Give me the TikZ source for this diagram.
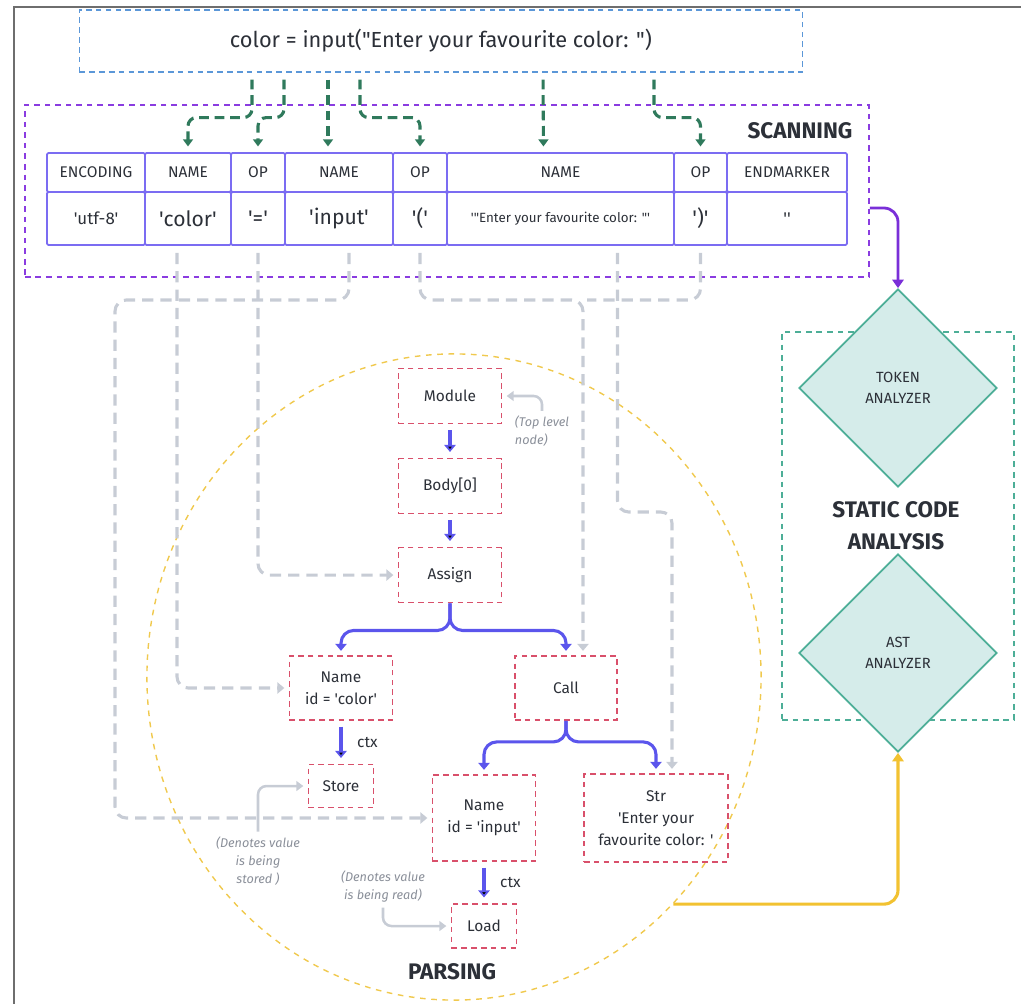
\documentclass[tikz,border=0pt]{standalone}
\usepackage{fontspec}
\setmainfont{Fira Sans}[Ligatures=TeXOff]
\usetikzlibrary{positioning,arrows.meta,shapes.geometric,calc}

\definecolor{ink}{HTML}{2C3038}
\definecolor{frameg}{HTML}{6E6E6E}
\definecolor{srcblue}{HTML}{5B97D8}
\definecolor{scanpurple}{HTML}{8A3CE0}
\definecolor{cellline}{HTML}{7B6CF2}
\definecolor{tapgreen}{HTML}{2F7A5C}
\definecolor{linkgray}{HTML}{C7CCD5}
\definecolor{notegray}{HTML}{8A8F99}
\definecolor{astred}{HTML}{D9506B}
\definecolor{kidblue}{HTML}{5B55EC}
\definecolor{parseyellow}{HTML}{F0C94E}
\definecolor{flowyellow}{HTML}{F2C231}
\definecolor{tealfill}{HTML}{D5ECEA}
\definecolor{tealline}{HTML}{4DAE97}
\definecolor{flowpurple}{HTML}{7A2FD8}

\newcommand\tokbig{\fontsize{15}{18}\selectfont}
\newcommand\tokmid{\fontsize{12}{14}\selectfont}
\newcommand\toksml{\fontsize{9.5}{11}\selectfont}

\begin{document}
\begin{tikzpicture}[x=0.025cm,y=-0.025cm,on grid,
    every node/.style={text=ink},
    cellh/.style={draw=cellline,line width=1.3pt,rounded corners=1pt,inner sep=0pt,
        minimum height=0.975cm,font=\fontsize{11}{12}\selectfont},
    cellv/.style={draw=cellline,line width=1.3pt,rounded corners=1pt,inner sep=0pt,
        minimum height=1.325cm},
    astbox/.style={draw=astred,line width=1.3pt,dash pattern=on 4pt off 3pt,inner sep=0pt,
        minimum width=2.575cm,minimum height=1.375cm,align=center,
        font=\fontsize{11}{15.5}\selectfont},
    diam/.style={diamond,draw=tealline,fill=tealfill,line width=1.2pt,inner sep=0pt,
        minimum width=4.95cm,minimum height=4.95cm,align=center,
        font=\fontsize{10.5}{15}\selectfont},
    tap/.style={draw=tapgreen,line width=2.2pt,dash pattern=on 7pt off 4pt,rounded corners=6pt,
        shorten <=5pt,shorten >=4pt,-{Triangle[width=7pt,length=5pt]}},
    link/.style={draw=linkgray,line width=2.2pt,dash pattern=on 8pt off 5pt,rounded corners=8pt,
        shorten <=5pt,shorten >=3pt,-{Triangle[width=8pt,length=5pt]}},
    kid/.style={draw=kidblue,line width=2.2pt,-{Triangle[width=8pt,length=5pt]}},
    note/.style={text=notegray,font=\itshape\fontsize{9}{12.8}\selectfont,align=center},
    noteline/.style={draw=linkgray,line width=1.8pt,rounded corners=6pt,shorten >=3pt,
        -{Triangle[width=7pt,length=5pt]}},
    title/.style={font=\bfseries\fontsize{16}{22.8}\selectfont,align=center}]

    \useasboundingbox (0,0) rectangle (1021,1004);
    \draw[frameg,line width=1.5pt] (14,1004) -- (14,7) -- (1021,7);

    % source line and the two stage boxes
    \node[draw=srcblue,line width=0.8pt,dash pattern=on 4pt off 3pt,minimum width=18.075cm,
        minimum height=1.55cm,font=\fontsize{15.5}{18}\selectfont] (src) at (441,41)
        {color = input("Enter your favourite color: ")};
    \node[draw=scanpurple,line width=1.1pt,dash pattern=on 4pt off 3.5pt,
        minimum width=21.1cm,minimum height=4.3cm] (scan) at (447,191) {};
    \node[title] (scanlbl) at (800,131) {SCANNING};
    \node[ellipse,draw=parseyellow,line width=1pt,dash pattern=on 4pt off 4pt,inner sep=0pt,
        minimum width=15.35cm,minimum height=16.15cm] (parse) at (454,677) {};
    \node[title] (parselbl) at (452,972) {PARSING};
    \node[draw=tealline,line width=1pt,dash pattern=on 4pt off 3.5pt,
        minimum width=5.8cm,minimum height=9.7cm] (stat) at (898,526) {};

    % token table
    \foreach \i/\xl/\xr/\hd/\val in {
        1/47/145/ENCODING/{\tokmid 'utf-8'},
        2/145/231/NAME/{\tokbig 'color'},
        3/231/285/OP/{\tokbig '='},
        4/285/393/NAME/{\tokbig 'input'},
        5/393/447/OP/{\tokbig '('},
        6/447/674/NAME/{\toksml '"Enter your favourite color: "'},
        7/674/727/OP/{\tokbig ')'},
        8/727/847/ENDMARKER/{\tokmid ''}} {
        \node[cellh,minimum width={(\xr-\xl)*0.025cm}] (h\i) at ({(\xl+\xr)/2},172.5) {\hd};
        \node[cellv,minimum width={(\xr-\xl)*0.025cm}] (v\i) at ({(\xl+\xr)/2},218.5) {\val};
    }

    % source -> tokens
    \draw[tap] ($(src.south)+(-189,0)$) -- ++(0,45) -| (h2.north);
    \draw[tap] ($(src.south)+(-157,0)$) -- ++(0,45) -| (h3.north);
    \draw[tap] ($(src.south)+(-113,0)$) -- ($(h4.north)+(-11,0)$);
    \draw[tap] ($(src.south)+(-81,0)$) -- ++(0,45) -| (h5.north);
    \draw[tap] ($(src.south)+(102,0)$) -- ($(h6.north)+(-17,0)$);
    \draw[tap] ($(src.south)+(213,0)$) -- ++(0,45) -| (h7.north);

    % analysis
    \node[diam] (tokd) at (898,388) {TOKEN\\ANALYZER};
    \node[diam] (astd) at (898,653) {AST\\ANALYZER};
    \node[title] (statlbl) at (896,526) {STATIC CODE\\ANALYSIS};

    % syntax tree
    \node[astbox] (module) at (450,396) {Module};
    \node[astbox] (body) [below=2.25cm of module] {Body[0]};
    \node[astbox] (assign) [below=2.225cm of body] {Assign};
    \node[astbox,minimum height=1.6cm] (nameC) at (341,688) {Name\\id = 'color'};
    \node[astbox,minimum width=2.55cm,minimum height=1.6cm] (call) at (566,688) {Call};
    \node[astbox,minimum width=1.625cm,minimum height=1.075cm] (store) [below=2.45cm of nameC] {Store};
    \node[astbox,minimum height=2.15cm] (nameI) at (484,818) {Name\\id = 'input'};
    \node[astbox,minimum width=3.6cm,minimum height=2.2cm] (str) at (656,818)
        {Str\\'Enter your\\favourite color: '};
    \node[astbox,minimum width=1.625cm,minimum height=1.1cm] (load) [below=2.7cm of nameI] {Load};

    \path[kid,shorten <=4pt,shorten >=4pt]
        (module) edge (body)
        (body) edge (assign)
        (nameC) edge node[right=0.25cm,font=\fontsize{11}{13}\selectfont] {ctx} (store)
        (nameI) edge node[right=0.25cm,font=\fontsize{11}{13}\selectfont] {ctx} (load);
    \draw[kid,rounded corners=9pt,shorten >=3pt] (assign.south) -- ++(0,27) -| (nameC.north);
    \draw[kid,rounded corners=9pt,shorten >=3pt] (assign.south) -- ++(0,27) -| (call.north);
    \draw[kid,rounded corners=9pt,shorten >=3pt] (call.south) -- ++(0,21) -| (nameI.north);
    \draw[kid,rounded corners=9pt,shorten >=3pt] (call.south) -- ++(0,21) -| (str.north);

    % tokens -> tree
    \coordinate (busL) at (115,300);
    \coordinate (busC) at (583,300);
    \coordinate (busS) at (672,512);
    \draw[link] ($(v2.south)+(-11,0)$) |- (nameC.west);
    \draw[link] (v3.south) |- (assign.west);
    \draw[link] ($(v4.south)+(10,0)$) |- (busL) |- (nameI.west);
    \draw[link] (v5.south) |- (busC) -- (busC |- call.north);
    \draw[link,-] (v7.south) |- (busC);
    \draw[link] ($(v6.south)+(57,0)$) |- (busS) -- (busS |- str.north);

    % side notes
    \node[note,align=left,anchor=north west] (toplvl) at (510,411) {(Top level\\node)};
    \draw[noteline] (toplvl.north) |- (module.east);
    \node[note] (storednote) at (258,861) {(Denotes value\\is being\\stored )};
    \draw[noteline] (storednote.north) |- (store.west);
    \node[note] (readnote) at (383,887) {(Denotes value\\is being read)};
    \draw[noteline] (readnote.south) |- (load.west);

    % stage flow
    \draw[draw=flowpurple,line width=2pt,rounded corners=10pt,-{Triangle[width=8pt,length=6pt]}]
        ([yshift=-0.425cm]scan.east) -| (tokd.north);
    \draw[draw=flowyellow,line width=2.2pt,rounded corners=10pt,-{Triangle[width=8pt,length=6pt]}]
        (parse.-46) -| (astd.south);
\end{tikzpicture}
\end{document}
